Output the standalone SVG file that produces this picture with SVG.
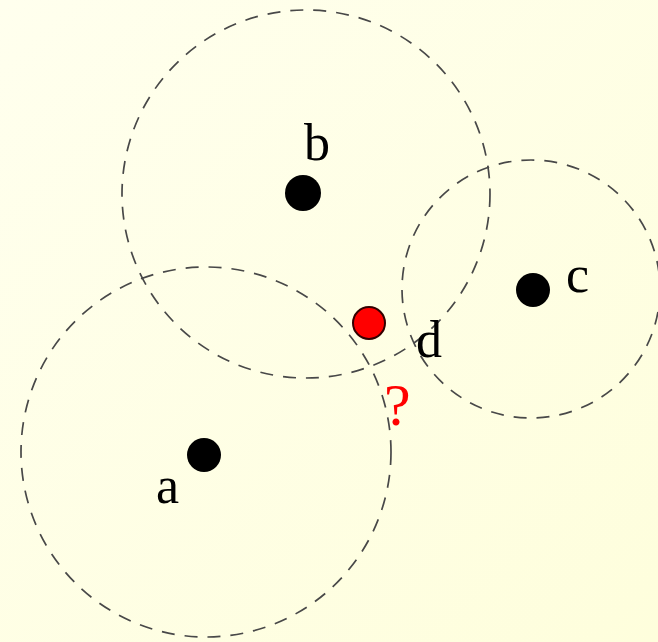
<svg xmlns="http://www.w3.org/2000/svg" width="658" height="642" viewBox="0 0 658 642">
<defs>
<linearGradient id="bg" x1="0" y1="0" x2="1" y2="1">
<stop offset="0" stop-color="#FFFFEE"/>
<stop offset="1" stop-color="#FEFEDC"/>
</linearGradient>
<style>
.range{fill:none;stroke:#484848;stroke-width:1.7;stroke-dasharray:13 10}
.pt{fill:#000}
.lbl{font-family:"Liberation Serif",serif;font-size:52px;fill:#000}
.q{font-family:"Liberation Serif",serif;font-size:60px;fill:#F00}
</style>
</defs>
<rect width="658" height="642" fill="url(#bg)"/>
<g id="ranges">
<circle class="range" cx="306" cy="194" r="184"/>
<circle class="range" cx="206" cy="452" r="185"/>
<circle class="range" cx="531" cy="289" r="129"/>
</g>
<g id="node-b"><circle class="pt" cx="303" cy="193" r="18"/><text class="lbl" x="304" y="160">b</text></g>
<g id="node-a"><circle class="pt" cx="204" cy="455" r="17"/><text class="lbl" x="156" y="503">a</text></g>
<g id="node-c"><circle class="pt" cx="533" cy="290" r="17"/><text class="lbl" x="566" y="292">c</text></g>
<g id="node-d"><circle cx="369" cy="323" r="16" fill="#F00" stroke="#300" stroke-width="2"/><text class="lbl" x="416" y="357">d</text></g>
<g id="question"><text class="q" x="384" y="425">?</text></g>
</svg>
